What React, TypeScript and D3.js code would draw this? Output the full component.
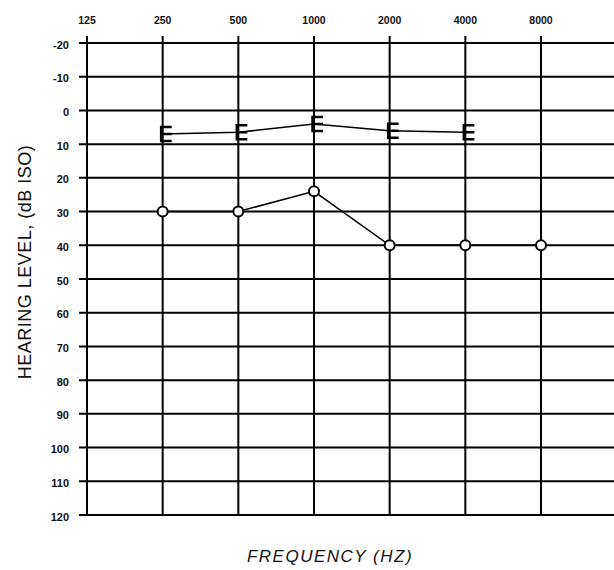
import React from "react";
import * as d3 from "d3";

const frequencies = [125, 250, 500, 1000, 2000, 4000, 8000];
const freqLabels = ["125", "250", "500", "1000", "2000", "4000", "8000"];
const levelTicks = [-20, -10, 0, 10, 20, 30, 40, 50, 60, 70, 80, 90, 100, 110, 120];

const boneFreqs = [250, 500, 1000, 2000, 4000];
const boneLevels = [7, 6.5, 4, 6, 6.5];

const airFreqs = [250, 500, 1000, 2000, 4000, 8000];
const airLevels = [30, 30, 24, 40, 40, 40];

const W = 614;
const H = 570;

export default function App() {
  const x = d3.scaleLog().base(2).domain([125, 8000]).range([87, 541]);
  const y = d3.scaleLinear().domain([-20, 120]).range([43, 515]);
  const line = d3
    .line<[number, number]>()
    .x((d) => x(d[0]))
    .y((d) => y(d[1]));
  const bone: [number, number][] = boneFreqs.map((f, i) => [f, boneLevels[i]]);
  const air: [number, number][] = airFreqs.map((f, i) => [f, airLevels[i]]);
  const font = "'Liberation Sans', Arial, Helvetica, sans-serif";
  const yTop = y(-20) - 7;
  const yBot = y(120) + 1;
  return (
    <svg
      width={W}
      height={H}
      style={{ position: "absolute", left: 0, top: 0, background: "#fff" }}
    >
      <rect x={0} y={0} width={W} height={H} fill="#fff" />
      {frequencies.map((f, i) => (
        <g key={f}>
          <line x1={x(f)} x2={x(f)} y1={yTop} y2={yBot} stroke="#000" strokeWidth={2} />
          <text
            x={x(f)}
            y={24}
            textAnchor="middle"
            fontFamily={font}
            fontSize={10.5}
            fontWeight="bold"
            fill="#111"
          >
            {freqLabels[i]}
          </text>
        </g>
      ))}
      {levelTicks.map((v) => (
        <g key={v}>
          <line x1={79} x2={W} y1={y(v)} y2={y(v)} stroke="#000" strokeWidth={2} />
          <text
            x={69}
            y={y(v) + 5.5}
            textAnchor="end"
            fontFamily={font}
            fontSize={11}
            fontWeight="bold"
            fill="#111"
          >
            {v}
          </text>
        </g>
      ))}
      <path d={line(bone) || ""} fill="none" stroke="#000" strokeWidth={1.5} />
      {bone.map((d, i) => {
        const cx = x(d[0]);
        const cy = y(d[1]);
        return (
          <path
            key={i}
            d={`M${cx + 9},${cy - 7} H${cx - 1.5} V${cy + 7} H${cx + 9} M${cx - 1.5},${cy} H${cx + 9}`}
            fill="none"
            stroke="#000"
            strokeWidth={2.5}
          />
        );
      })}
      <path d={line(air) || ""} fill="none" stroke="#000" strokeWidth={1.5} />
      {air.map((d, i) => (
        <circle
          key={i}
          cx={x(d[0])}
          cy={y(d[1])}
          r={5}
          fill="#fff"
          stroke="#000"
          strokeWidth={2}
        />
      ))}
      <text
        transform={`translate(31,262) rotate(-90)`}
        textAnchor="middle"
        fontFamily={font}
        fontSize={18}
        letterSpacing={0.5}
        fill="#111"
      >
        HEARING LEVEL, (dB ISO)
      </text>
      <text
        x={330}
        y={562}
        textAnchor="middle"
        fontFamily={font}
        fontSize={17}
        fontStyle="italic"
        letterSpacing={1.5}
        fill="#111"
      >
        FREQUENCY (HZ)
      </text>
    </svg>
  );
}
